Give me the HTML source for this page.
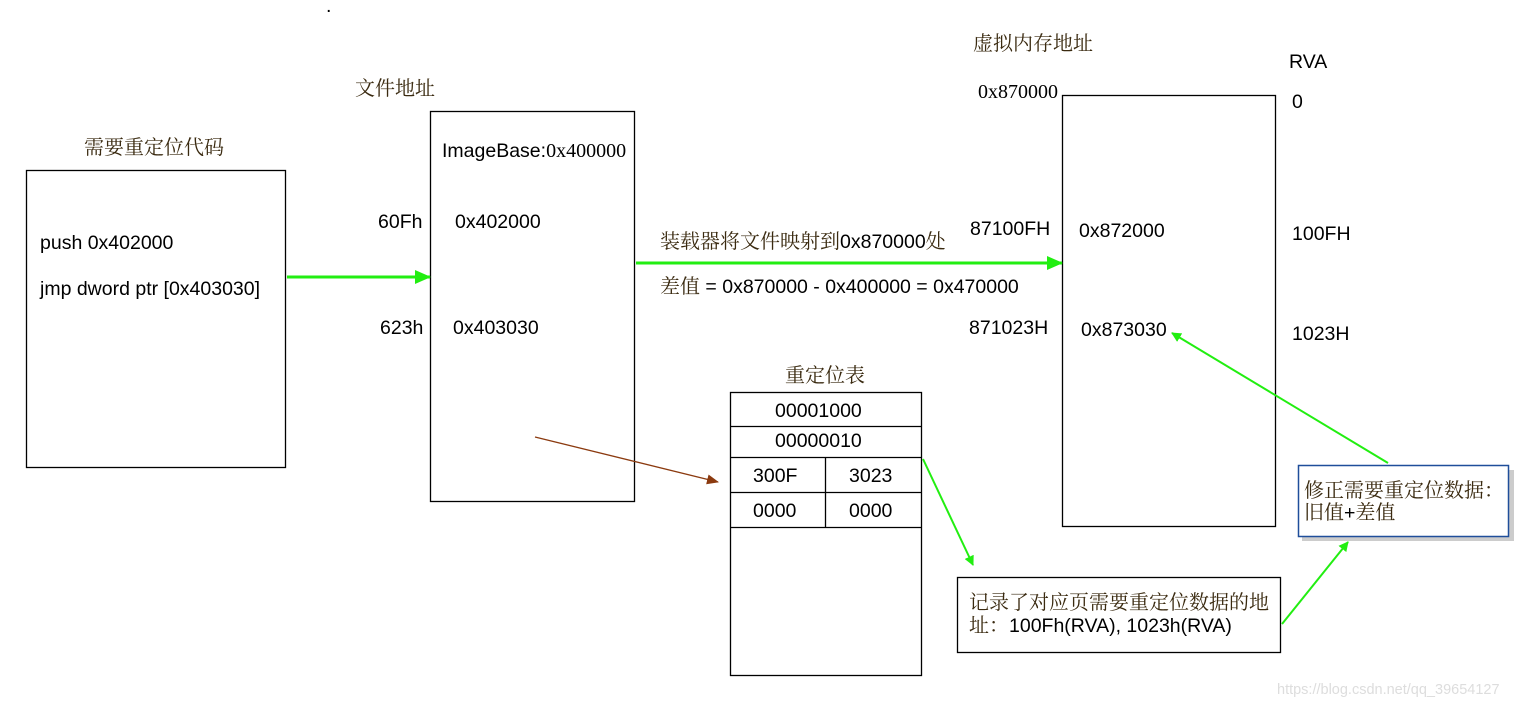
<!DOCTYPE html>
<html><head><meta charset="utf-8"><style>
html,body{margin:0;padding:0;background:#fff;}
svg{display:block}
.s{font-family:"Liberation Sans","Noto Sans CJK SC",sans-serif;font-size:19.5px;fill:#000}
.c{font-family:"Liberation Serif","Noto Serif CJK SC",serif;font-size:20px;fill:#3a2a10}
.r{font-family:"Liberation Serif","Noto Serif CJK SC",serif;font-size:20px;fill:#000}
</style></head><body>
<svg width="1529" height="706" viewBox="0 0 1529 706" xmlns="http://www.w3.org/2000/svg">
<defs>
<marker id="g" markerWidth="10" markerHeight="10" refX="9" refY="5" orient="auto" markerUnits="userSpaceOnUse" viewBox="0 0 10 10"><path d="M0,0 L10,5 L0,10 z" fill="#22ee11"/></marker>
<marker id="g2" markerWidth="16" markerHeight="14" refX="15" refY="7" orient="auto" markerUnits="userSpaceOnUse" viewBox="0 0 16 14"><path d="M0,0 L16,7 L0,14 z" fill="#22ee11"/></marker>
<marker id="b" markerWidth="12" markerHeight="10" refX="11" refY="5" orient="auto" markerUnits="userSpaceOnUse" viewBox="0 0 12 10"><path d="M0,0 L12,5 L0,10 z" fill="#8b3a0f"/></marker>
</defs>
<g fill="none" stroke="#000" stroke-width="1.3">
<rect x="26.5" y="170.5" width="259" height="297"/>
<rect x="430.5" y="111.5" width="204" height="390"/>
<rect x="1062.5" y="95.5" width="213" height="431"/>
<rect x="730.5" y="392.5" width="191" height="283"/>
<line x1="730" y1="426.5" x2="922" y2="426.5"/>
<line x1="730" y1="457.5" x2="922" y2="457.5"/>
<line x1="730" y1="492.5" x2="922" y2="492.5"/>
<line x1="730" y1="527.5" x2="922" y2="527.5"/>
<line x1="825.5" y1="457" x2="825.5" y2="527"/>
<rect x="957.5" y="577.5" width="323" height="75"/>
</g>
<rect x="1302" y="470" width="212" height="71" fill="#ccc"/>
<rect x="1298.5" y="465.5" width="210" height="71" fill="#fff" stroke="#1f4e9a" stroke-width="1.5"/>
<g stroke="#22ee11" stroke-width="3" fill="none">
<line x1="287" y1="277" x2="430" y2="277" marker-end="url(#g2)"/>
<line x1="636" y1="263" x2="1062" y2="263" marker-end="url(#g2)"/>
</g>
<g stroke="#22ee11" stroke-width="2" fill="none">
<line x1="923" y1="459" x2="973" y2="565" marker-end="url(#g)"/>
<line x1="1388" y1="463" x2="1172" y2="333" marker-end="url(#g)"/>
<line x1="1282" y1="624" x2="1348" y2="542" marker-end="url(#g)"/>
</g>
<line x1="535" y1="437" x2="718" y2="482" stroke="#8b3a0f" stroke-width="1.3" marker-end="url(#b)"/>
<text x="326" y="12" class="s" font-size="10">.</text>
<text x="84" y="154" class="c">需要重定位代码</text>
<text x="355" y="95" class="c">文件地址</text>
<text x="973" y="50" class="c">虚拟内存地址</text>
<text x="40" y="249" class="s">push 0x402000</text>
<text x="40" y="295" class="s">jmp dword ptr [0x403030]</text>
<text x="442" y="157" class="s">ImageBase:<tspan class="r">0x400000</tspan></text>
<text x="378" y="228" class="s">60Fh</text>
<text x="455" y="228" class="s">0x402000</text>
<text x="380" y="334" class="s">623h</text>
<text x="453" y="334" class="s">0x403030</text>
<text x="660" y="248" class="s"><tspan class="c">装载器将文件映射到</tspan>0x870000<tspan class="c">处</tspan></text>
<text x="660" y="293" class="s"><tspan class="c">差值</tspan> = 0x870000 - 0x400000 = 0x470000</text>
<text x="978" y="98" class="r">0x870000</text>
<text x="1289" y="68" class="s">RVA</text>
<text x="1292" y="108" class="s">0</text>
<text x="970" y="235" class="s">87100FH</text>
<text x="1079" y="237" class="s">0x872000</text>
<text x="1292" y="240" class="s">100FH</text>
<text x="969" y="334" class="s">871023H</text>
<text x="1081" y="336" class="s">0x873030</text>
<text x="1292" y="340" class="s">1023H</text>
<text x="785" y="382" class="c">重定位表</text>
<text x="775" y="417" class="s">00001000</text>
<text x="775" y="447" class="s">00000010</text>
<text x="753" y="482" class="s">300F</text>
<text x="849" y="482" class="s">3023</text>
<text x="753" y="517" class="s">0000</text>
<text x="849" y="517" class="s">0000</text>
<text x="969" y="609" class="c">记录了对应页需要重定位数据的地</text>
<text x="969" y="632" class="s"><tspan class="c">址：</tspan>100Fh(RVA), 1023h(RVA)</text>
<text x="1304" y="497" class="c">修正需要重定位数据：</text>
<text x="1304" y="519" class="c">旧值<tspan class="s">+</tspan>差值</text>
<text x="1277" y="694" class="s" style="fill:#ddd;font-size:14.5px">https://blog.csdn.net/qq_39654127</text>
</svg>
</body></html>
